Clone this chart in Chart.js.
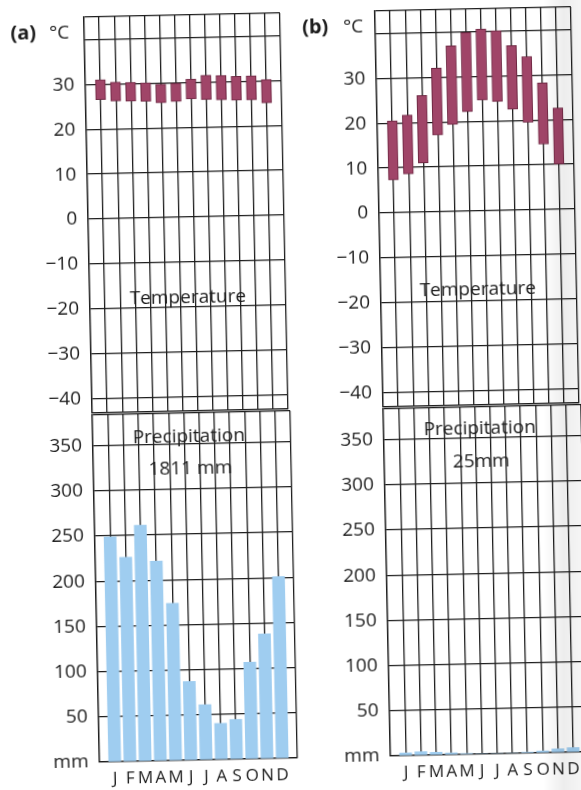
<!DOCTYPE html>
<html>
<head>
<meta charset="utf-8">
<script src="https://cdn.jsdelivr.net/npm/chart.js@4.4.1/dist/chart.umd.min.js"></script>
<style>
  html, body { margin: 0; padding: 0; background: #fff; overflow: hidden; }
  body { width: 581px; height: 790px; position: relative; font-family: "Open Sans", sans-serif; color: #1c1c1c; }
  #page { position: absolute; left: 0; top: 0; width: 581px; height: 790px; transform: rotate(-1.2deg); transform-origin: 290px 400px; }
  canvas { position: absolute; }
  .lbl { position: absolute; transform: translate(-50%, -50%); white-space: nowrap; font-size: 19px; line-height: 1; }
  .panel { font-weight: bold; font-size: 20px; }
  #fold { position: absolute; left: 543px; top: 0; width: 38px; height: 790px; pointer-events: none;
    background: linear-gradient(to right, rgba(0,0,0,0) 0%, rgba(0,0,0,0.07) 55%, rgba(0,0,0,0.04) 100%); }
</style>
</head>
<body>
<div id="page">
  <canvas id="tempA" width="292" height="413" style="left:0px;top:0px"></canvas>
  <canvas id="precipA" width="292" height="385" style="left:0px;top:405px"></canvas>
  <canvas id="tempB" width="292" height="413" style="left:291px;top:0px"></canvas>
  <canvas id="precipB" width="292" height="385" style="left:291px;top:405px"></canvas>

  <div class="lbl panel" style="left:31px;top:27px">(a)</div>
  <div class="lbl" style="left:67px;top:27px">°C</div>
  <div class="lbl panel" style="left:323px;top:27px">(b)</div>
  <div class="lbl" style="left:361px;top:27px">°C</div>

  <div class="lbl" style="left:190px;top:294px">Temperature</div>
  <div class="lbl" style="left:188px;top:433px">Precipitation</div>
  <div class="lbl" style="left:189px;top:465px">1811 mm</div>

  <div class="lbl" style="left:480px;top:292px">Temperature</div>
  <div class="lbl" style="left:479px;top:431px">Precipitation</div>
  <div class="lbl" style="left:480px;top:464px">25mm</div>
</div>
<div id="fold"></div>

<script>
const months = ["J", "F", "M", "A", "M", "J", "J", "A", "S", "O", "N", "D"];

// (a) equatorial station
const tempMinA = [26.6, 26.2, 26.1, 26.0, 25.6, 25.8, 26.3, 26.1, 26.0, 25.8, 25.8, 25.1];
const tempMaxA = [31.0, 30.4, 30.3, 30.1, 29.7, 29.9, 30.7, 31.5, 31.4, 31.1, 31.2, 30.3];
const tempMeanA = [28.8, 28.3, 28.2, 28.0, 27.7, 27.9, 28.5, 28.8, 28.7, 28.5, 28.5, 27.8];
const precipA = [249, 226, 261, 221, 174, 87, 61, 40, 44, 107, 138, 201];

// (b) desert station
const tempMinB = [7.3, 8.6, 11.0, 17.1, 19.4, 22.2, 24.7, 24.3, 22.5, 19.5, 14.6, 10.1];
const tempMaxB = [20.5, 21.7, 26.0, 32.0, 36.9, 39.8, 40.5, 40.1, 36.7, 34.2, 28.2, 22.6];
const tempMeanB = [14.1, 15.2, 18.6, 24.7, 28.1, 31.0, 32.6, 32.1, 29.7, 26.9, 21.4, 16.4];
const precipB = [3, 4, 3, 2, 1, 0, 0, 0, 1, 2, 4, 5];

// axis ranges and tick lines (first/last are the frame)
const tempTicks = [-43.2, -40, -30, -20, -10, 0, 10, 20, 30, 40, 45];
const tempLabelled = [-40, -30, -20, -10, 0, 10, 20, 30];
const precipTicks = [0, 50, 100, 150, 200, 250, 300, 350, 384];
const precipLabelled = [50, 100, 150, 200, 250, 300, 350];

const FONT = "'Open Sans', sans-serif";
const INK = "#1c1c1c";
const GRID = "#1e1e1e";

Chart.defaults.font.family = FONT;
Chart.defaults.color = INK;

// empty slot before J and after D: the grid has a line on every month
const slots = ["", ...months, ""];
function pad(arr) {
  return [null, ...arr, null];
}

document.addEventListener("DOMContentLoaded", function () {
  initTempChart("tempA", tempMinA, tempMaxA, tempMeanA);
  initPrecipChart("precipA", precipA);
  initTempChart("tempB", tempMinB, tempMaxB, tempMeanB);
  initPrecipChart("precipB", precipB);
});

function gridOpts() {
  return {
    color: GRID,
    lineWidth: 1.3,
    drawTicks: false,
  };
}

// keep the plot area where I put it, no room reserved for half labels
function fixY(scale) {
  scale.width = 92;
  scale.paddingTop = 0;
  scale.paddingBottom = 0;
}

function fixX(height) {
  return function (scale) {
    scale.height = height;
    scale.paddingLeft = 0;
    scale.paddingRight = 0;
  };
}

function setTicks(values) {
  return function (scale) {
    scale.ticks = values.map((v) => ({ value: v }));
  };
}

function initTempChart(id, mins, maxs, means) {
  const ctx = document.getElementById(id);
  if (!ctx) return;

  new Chart(ctx, {
    type: "bar",
    data: {
      labels: slots,
      datasets: [
        {
          data: pad(mins.map((m, i) => [m, maxs[i]])),
          backgroundColor: "#a04568",
          borderColor: "#6e2742",
          borderWidth: 1,
          borderSkipped: false,
          barThickness: 10,
        },
        {
          type: "line",
          data: pad(means),
          showLine: false,
          pointRadius: 1.6,
          pointBorderWidth: 0,
          pointBackgroundColor: "#4a1428",
        },
      ],
    },
    options: {
      responsive: false,
      devicePixelRatio: 1,
      animation: false,
      layout: { padding: { top: 13, right: 2, bottom: 2, left: 0 } },
      plugins: { legend: { display: false }, tooltip: { enabled: false } },
      scales: {
        x: {
          offset: false,
          grid: { ...gridOpts(), offset: false },
          border: { color: GRID, width: 1.3 },
          ticks: { display: false },
          afterFit: fixX(0),
        },
        y: {
          min: tempTicks[0],
          max: tempTicks[tempTicks.length - 1],
          grid: gridOpts(),
          border: { color: GRID, width: 1.3 },
          afterBuildTicks: setTicks(tempTicks),
          ticks: {
            padding: 11,
            font: { size: 19 },
            color: INK,
            callback: function (value) {
              if (!tempLabelled.includes(value)) return "";
              return value < 0 ? "\u2212" + Math.abs(value) : String(value);
            },
          },
          afterFit: fixY,
        },
      },
    },
  });
}

function initPrecipChart(id, values) {
  const ctx = document.getElementById(id);
  if (!ctx) return;

  new Chart(ctx, {
    type: "bar",
    data: {
      labels: slots,
      datasets: [
        {
          data: pad(values),
          backgroundColor: "#9fcdf0",
          borderWidth: 0,
          barThickness: 12,
        },
      ],
    },
    options: {
      responsive: false,
      devicePixelRatio: 1,
      animation: false,
      layout: { padding: { top: 6, right: 2, bottom: 0, left: 0 } },
      plugins: { legend: { display: false }, tooltip: { enabled: false } },
      scales: {
        x: {
          offset: false,
          grid: { ...gridOpts(), offset: false },
          border: { color: GRID, width: 1.3 },
          ticks: {
            autoSkip: false,
            maxRotation: 0,
            padding: 7,
            font: { size: 17 },
            color: INK,
          },
          afterFit: fixX(32),
        },
        y: {
          min: precipTicks[0],
          max: precipTicks[precipTicks.length - 1],
          grid: gridOpts(),
          border: { color: GRID, width: 1.3 },
          afterBuildTicks: setTicks(precipTicks),
          ticks: {
            padding: 11,
            font: { size: 19 },
            color: INK,
            callback: function (value) {
              if (value === 0) return "mm";
              if (!precipLabelled.includes(value)) return "";
              return String(value);
            },
          },
          afterFit: fixY,
        },
      },
    },
  });
}
</script>
</body>
</html>
